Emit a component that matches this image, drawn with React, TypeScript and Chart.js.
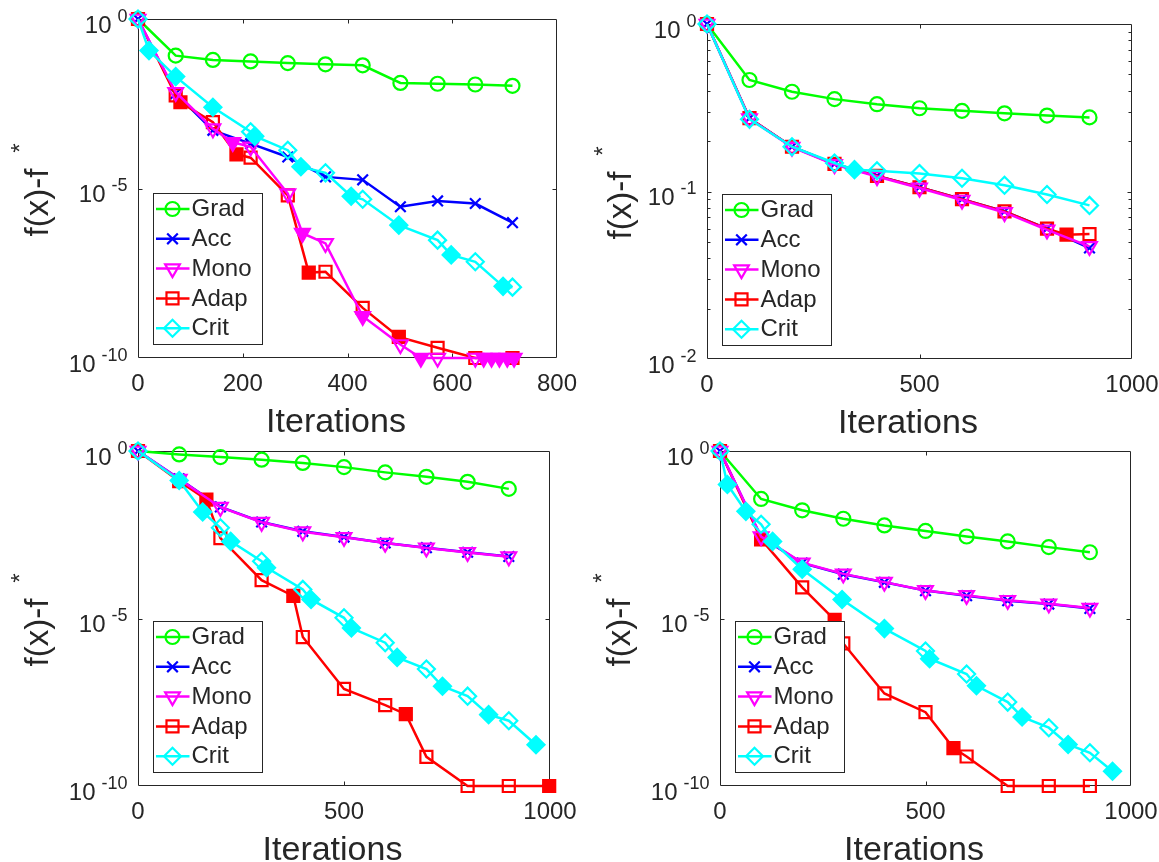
import React, { useEffect, useRef } from 'react';
import { Chart, registerables } from 'chart.js';
import { drawPoint } from 'chart.js/helpers';

Chart.register(...registerables);

const FONT = "'Liberation Sans', Arial, Helvetica, sans-serif";
const AXIS_COLOR = '#262626';

// ---------------- data ----------------
const seriesNames = ['Grad', 'Acc', 'Mono', 'Adap', 'Crit'];

// Panel 1 (top-left)
const p1Iters = [0, 72, 143, 215, 286, 358, 429, 501, 572, 644, 715];
const p1Grad = [1, 8.3e-2, 6.2e-2, 5.6e-2, 5.0e-2, 4.6e-2, 4.3e-2, 1.3e-2, 1.23e-2, 1.17e-2, 1.07e-2];
const p1Acc = [1, 6.3e-3, 5.2e-4, 2.1e-4, 8.5e-5, 2.2e-5, 1.8e-5, 2.9e-6, 4.3e-6, 3.6e-6, 9.8e-7];
const p1MonoIters = [0, 72, 143, 181, 215, 286, 314, 358, 429, 501, 540, 572, 644, 660, 675, 690, 705, 718];
const p1Mono = [1, 6.9e-3, 5.8e-4, 2.3e-4, 1.7e-4, 7.1e-6, 4.8e-7, 2.4e-7, 1.7e-9, 2.5e-10, 1e-10, 1e-10, 1e-10, 1e-10, 1e-10, 1e-10, 1e-10, 1e-10];
const p1MonoRestarts = [181, 314, 429, 540, 660, 675, 690, 705, 718];
const p1AdapIters = [0, 72, 81, 143, 188, 215, 286, 326, 358, 429, 498, 572, 644, 715];
const p1Adap = [1, 5.6e-3, 3.5e-3, 9.1e-4, 1.02e-4, 8.1e-5, 6.3e-6, 3.3e-8, 3.5e-8, 3.0e-9, 4.2e-10, 2.0e-10, 1e-10, 1e-10];
const p1AdapRestarts = [81, 188, 326, 498];
const p1CritIters = [0, 21, 72, 143, 215, 223, 286, 311, 358, 407, 429, 498, 572, 598, 644, 697, 715];
const p1Crit = [1, 0.117, 0.02, 2.5e-3, 4.7e-4, 3.5e-4, 1.35e-4, 4.4e-5, 2.9e-5, 5.9e-6, 4.8e-6, 8.3e-7, 3.0e-7, 1.1e-7, 6.9e-8, 1.3e-8, 1.23e-8];
const p1CritRestarts = [21, 72, 143, 223, 311, 407, 498, 598, 697];
const p1XTicks = [0, 200, 400, 600, 800];
const p1YTicks = [1e-10, 1e-5, 1];

// Panel 2 (top-right)
const p2Iters = [0, 100, 200, 300, 400, 500, 600, 700, 800, 900];
const p2Grad = [1, 0.463, 0.394, 0.356, 0.332, 0.314, 0.303, 0.293, 0.284, 0.277];
const p2Acc = [1, 0.274, 0.185, 0.146, 0.124, 0.106, 0.09, 0.076, 0.06, 0.046];
const p2Mono = [1, 0.272, 0.184, 0.145, 0.123, 0.105, 0.089, 0.075, 0.059, 0.047];
const p2AdapIters = [0, 100, 200, 300, 400, 500, 600, 700, 800, 846, 900];
const p2Adap = [1, 0.274, 0.185, 0.146, 0.124, 0.106, 0.09, 0.076, 0.06, 0.0552, 0.0557];
const p2AdapRestarts = [846];
const p2CritIters = [0, 100, 200, 300, 347, 400, 500, 600, 700, 800, 900];
const p2Crit = [1, 0.27, 0.185, 0.148, 0.135, 0.133, 0.128, 0.12, 0.109, 0.096, 0.0826];
const p2CritRestarts = [347];
const p2XTicks = [0, 500, 1000];
const p2YTicks = [1e-2, 1e-1, 1];

// Panel 3 (bottom-left)
const p3Iters = [0, 100, 200, 300, 400, 500, 600, 700, 800, 900];
const p3Grad = [1, 0.79, 0.66, 0.55, 0.44, 0.33, 0.23, 0.17, 0.12, 0.074];
const p3Acc = [1, 0.148, 0.0214, 7.6e-3, 4.0e-3, 2.7e-3, 1.8e-3, 1.3e-3, 9.5e-4, 7.1e-4];
const p3Mono = [1, 0.145, 0.021, 7.5e-3, 3.9e-3, 2.65e-3, 1.78e-3, 1.28e-3, 9.4e-4, 7.0e-4];
const p3AdapIters = [0, 100, 166, 200, 300, 377, 400, 500, 600, 650, 700, 800, 900, 998];
const p3Adap = [1, 0.126, 0.0355, 2.5e-3, 1.4e-4, 4.7e-5, 2.8e-6, 7.9e-8, 2.6e-8, 1.4e-8, 7.4e-10, 1e-10, 1e-10, 1e-10];
const p3AdapRestarts = [166, 377, 650, 998];
const p3CritIters = [0, 100, 157, 200, 225, 300, 312, 400, 420, 500, 518, 600, 629, 700, 739, 800, 851, 900, 966];
const p3Crit = [1, 0.132, 0.0151, 5.1e-3, 2.0e-3, 5.1e-4, 3.3e-4, 7.4e-5, 3.7e-5, 1.05e-5, 5.2e-6, 1.9e-6, 6.9e-7, 3.1e-7, 9.5e-8, 4.8e-8, 1.35e-8, 8.9e-9, 1.7e-9];
const p3CritRestarts = [100, 157, 225, 312, 420, 518, 629, 739, 851, 966];
const p3XTicks = [0, 500, 1000];
const p3YTicks = [1e-10, 1e-5, 1];

// Panel 4 (bottom-right)
const p4Iters = [0, 100, 200, 300, 400, 500, 600, 700, 800, 900];
const p4Grad = [1, 0.037, 0.017, 9.5e-3, 6.0e-3, 4.1e-3, 2.8e-3, 2.0e-3, 1.35e-3, 9.5e-4];
const p4Acc = [1, 2.7e-3, 4.5e-4, 2.1e-4, 1.2e-4, 6.8e-5, 4.8e-5, 3.4e-5, 2.7e-5, 2.0e-5];
const p4Mono = [1, 2.8e-3, 4.6e-4, 2.15e-4, 1.22e-4, 6.9e-5, 4.9e-5, 3.5e-5, 2.75e-5, 2.05e-5];
const p4AdapIters = [0, 100, 200, 279, 300, 400, 500, 568, 600, 700, 800, 900];
const p4Adap = [1, 2.3e-3, 8.5e-5, 9.1e-6, 1.8e-6, 5.8e-8, 1.6e-8, 1.35e-9, 7.6e-10, 1e-10, 1e-10, 1e-10];
const p4AdapRestarts = [100, 279, 568];
const p4CritIters = [0, 18, 63, 100, 128, 200, 297, 400, 500, 510, 600, 624, 700, 735, 800, 847, 900, 955];
const p4Crit = [1, 0.1, 0.0158, 6.5e-3, 2.0e-3, 2.95e-4, 3.7e-5, 5.0e-6, 1.07e-6, 6.3e-7, 2.2e-7, 9.8e-8, 3.2e-8, 1.15e-8, 5.5e-9, 1.74e-9, 9.8e-10, 2.75e-10];
const p4CritRestarts = [18, 63, 128, 200, 297, 400, 510, 624, 735, 847, 955];
const p4XTicks = [0, 500, 1000];
const p4YTicks = [1e-10, 1e-5, 1];

// ---------------- styles ----------------
const STYLES: Record<string, any> = {
  Grad: { color: '#00ff00', pointStyle: 'circle', radius: 7, rotation: 0, order: 4 },
  Acc: { color: '#0000ff', pointStyle: 'crossRot', radius: 7.5, rotation: 0, order: 3 },
  Mono: { color: '#ff00ff', pointStyle: 'triangle', radius: 8.5, rotation: 180, order: 1 },
  Adap: { color: '#ff0000', pointStyle: 'rect', radius: 8.5, rotation: 0, order: 2 },
  Crit: { color: '#00ffff', pointStyle: 'rectRot', radius: 8.5, rotation: 0, order: 0 },
};
const LINE_W = 2.5;
const MARKER_W = 2.2;

type Series = { name: string; xs: number[]; ys: number[]; restarts: number[] };

const PANELS = [
  {
    area: { left: 138, top: 19, right: 557, bottom: 358 },
    xMax: 800, yMin: 1e-10, xTicks: p1XTicks, yTicks: p1YTicks, minor: false, yTitleX: 48,
    series: [
      { name: 'Grad', xs: p1Iters, ys: p1Grad, restarts: [] },
      { name: 'Acc', xs: p1Iters, ys: p1Acc, restarts: [] },
      { name: 'Mono', xs: p1MonoIters, ys: p1Mono, restarts: p1MonoRestarts },
      { name: 'Adap', xs: p1AdapIters, ys: p1Adap, restarts: p1AdapRestarts },
      { name: 'Crit', xs: p1CritIters, ys: p1Crit, restarts: p1CritRestarts },
    ] as Series[],
  },
  {
    area: { left: 707, top: 24, right: 1132, bottom: 359 },
    xMax: 1000, yMin: 1e-2, xTicks: p2XTicks, yTicks: p2YTicks, minor: true, yTitleX: 631,
    series: [
      { name: 'Grad', xs: p2Iters, ys: p2Grad, restarts: [] },
      { name: 'Acc', xs: p2Iters, ys: p2Acc, restarts: [] },
      { name: 'Mono', xs: p2Iters, ys: p2Mono, restarts: [] },
      { name: 'Adap', xs: p2AdapIters, ys: p2Adap, restarts: p2AdapRestarts },
      { name: 'Crit', xs: p2CritIters, ys: p2Crit, restarts: p2CritRestarts },
    ] as Series[],
  },
  {
    area: { left: 138, top: 451, right: 550, bottom: 786 },
    xMax: 1000, yMin: 1e-10, xTicks: p3XTicks, yTicks: p3YTicks, minor: false, yTitleX: 48,
    series: [
      { name: 'Grad', xs: p3Iters, ys: p3Grad, restarts: [] },
      { name: 'Acc', xs: p3Iters, ys: p3Acc, restarts: [] },
      { name: 'Mono', xs: p3Iters, ys: p3Mono, restarts: [] },
      { name: 'Adap', xs: p3AdapIters, ys: p3Adap, restarts: p3AdapRestarts },
      { name: 'Crit', xs: p3CritIters, ys: p3Crit, restarts: p3CritRestarts },
    ] as Series[],
  },
  {
    area: { left: 720, top: 451, right: 1131, bottom: 786 },
    xMax: 1000, yMin: 1e-10, xTicks: p4XTicks, yTicks: p4YTicks, minor: false, yTitleX: 630,
    series: [
      { name: 'Grad', xs: p4Iters, ys: p4Grad, restarts: [] },
      { name: 'Acc', xs: p4Iters, ys: p4Acc, restarts: [] },
      { name: 'Mono', xs: p4Iters, ys: p4Mono, restarts: [] },
      { name: 'Adap', xs: p4AdapIters, ys: p4Adap, restarts: p4AdapRestarts },
      { name: 'Crit', xs: p4CritIters, ys: p4Crit, restarts: p4CritRestarts },
    ] as Series[],
  },
];

const W = 1159;
const H = 862;

const snap = (v: number) => Math.round(v) + 0.5;

const matlabPlugin = {
  id: 'matlab',
  beforeDatasetsDraw(chart: any, _args: any, opts: any) {
    const { ctx, chartArea: a, scales } = chart;
    const x = scales.x;
    const y = scales.y;
    const L = snap(a.left), R = snap(a.right) - 1, T = snap(a.top), B = snap(a.bottom) - 1;
    ctx.save();
    ctx.strokeStyle = AXIS_COLOR;
    ctx.lineWidth = 1;
    ctx.beginPath();
    ctx.rect(L, T, R - L, B - T);
    const tl = 4;
    for (const v of opts.xTicks) {
      if (v <= x.min || v >= x.max) continue;
      const px = snap(x.getPixelForValue(v));
      ctx.moveTo(px, B); ctx.lineTo(px, B - tl);
      ctx.moveTo(px, T); ctx.lineTo(px, T + tl);
    }
    for (const v of opts.yTicks) {
      if (v <= y.min * 1.0001 || v >= y.max * 0.9999) continue;
      const py = snap(y.getPixelForValue(v));
      ctx.moveTo(L, py); ctx.lineTo(L + tl, py);
      ctx.moveTo(R, py); ctx.lineTo(R - tl, py);
    }
    if (opts.minor) {
      for (let e = Math.round(Math.log10(y.min)); e < 0; e++) {
        for (let m = 2; m <= 9; m++) {
          const py = snap(y.getPixelForValue(m * Math.pow(10, e)));
          ctx.moveTo(L, py); ctx.lineTo(L + 3, py);
          ctx.moveTo(R, py); ctx.lineTo(R - 3, py);
        }
      }
    }
    ctx.stroke();
    ctx.restore();
  },
  afterDraw(chart: any, _args: any, opts: any) {
    const { ctx, chartArea: a, scales } = chart;
    const x = scales.x;
    const y = scales.y;
    ctx.save();
    ctx.fillStyle = AXIS_COLOR;
    // x tick labels
    ctx.font = `24px ${FONT}`;
    ctx.textAlign = 'center';
    ctx.textBaseline = 'alphabetic';
    for (const v of opts.xTicks) {
      ctx.fillText(String(v), x.getPixelForValue(v), a.bottom + 32.5);
    }
    // y tick labels 10^k
    for (const v of opts.yTicks) {
      const py = y.getPixelForValue(v);
      const e = String(Math.round(Math.log10(v)));
      ctx.textAlign = 'right';
      ctx.font = `18px ${FONT}`;
      const right = a.left - 10.5;
      ctx.fillText(e, right, py + 2.5);
      const ew = ctx.measureText(e).width;
      ctx.font = `24px ${FONT}`;
      ctx.fillText('10', right - ew - 6, py + 13.5);
    }
    // x title
    ctx.font = `34px ${FONT}`;
    ctx.textAlign = 'center';
    ctx.fillText('Iterations', (a.left + a.right) / 2 - 11.5, a.bottom + 73.5);
    // y title with superscript star
    ctx.save();
    ctx.translate(opts.yTitleX, (a.top + a.bottom) / 2 + 48);
    ctx.rotate(-Math.PI / 2);
    ctx.textAlign = 'left';
    ctx.font = `33px ${FONT}`;
    ctx.fillText('f(x)-f', 0, 0);
    const mw = ctx.measureText('f(x)-f').width;
    ctx.font = `24px ${FONT}`;
    ctx.fillText('*', mw + 16, -20);
    ctx.restore();

    // legend
    const lw = 109, lh = 151;
    const lx = a.left + 14.5;
    const ly = a.bottom - 14.5 - lh;
    ctx.fillStyle = '#ffffff';
    ctx.fillRect(Math.round(lx), Math.round(ly), lw, lh);
    ctx.strokeStyle = AXIS_COLOR;
    ctx.lineWidth = 1;
    ctx.strokeRect(snap(lx), snap(ly), lw, lh);
    chart.data.datasets.forEach((ds: any, i: number) => {
      const st = STYLES[ds.label];
      const cy = ly + 16.5 + 29.8 * i;
      ctx.strokeStyle = st.color;
      ctx.lineWidth = LINE_W;
      ctx.beginPath();
      ctx.moveTo(lx + 3.5, cy);
      ctx.lineTo(lx + 37, cy);
      ctx.stroke();
      ctx.lineWidth = MARKER_W;
      ctx.fillStyle = 'rgba(0,0,0,0)';
      drawPoint(ctx, { pointStyle: st.pointStyle, rotation: st.rotation, radius: st.radius, borderWidth: MARKER_W }, lx + 20, cy);
      ctx.fillStyle = AXIS_COLOR;
      ctx.font = `24px ${FONT}`;
      ctx.textAlign = 'left';
      ctx.textBaseline = 'middle';
      ctx.fillText(ds.label, lx + 39, cy + 0.5);
      ctx.textBaseline = 'alphabetic';
    });
    ctx.restore();
  },
};

function makeDataset(s: Series) {
  const st = STYLES[s.name];
  return {
    label: s.name,
    data: s.xs.map((xv, i) => ({ x: xv, y: s.ys[i] })),
    borderColor: st.color,
    backgroundColor: st.color,
    borderWidth: LINE_W,
    pointStyle: st.pointStyle,
    pointRotation: st.rotation,
    pointRadius: st.radius,
    pointBorderWidth: MARKER_W,
    pointBorderColor: st.color,
    pointBackgroundColor: (ctx: any) =>
      ctx.raw && s.restarts.includes(ctx.raw.x) ? st.color : 'rgba(0,0,0,0)',
    tension: 0,
    clip: false as any,
    order: st.order,
  };
}

function Panel({ cfg }: { cfg: any }) {
  const ref = useRef<HTMLCanvasElement>(null);
  useEffect(() => {
    if (!ref.current) return;
    const a = cfg.area;
    const chart = new Chart(ref.current, {
      type: 'line',
      data: { datasets: cfg.series.map(makeDataset) },
      options: {
        responsive: false,
        animation: false,
        devicePixelRatio: 1,
        events: [],
        layout: { padding: { left: a.left, top: a.top, right: W - a.right, bottom: H - a.bottom } },
        scales: {
          x: { type: 'linear', min: 0, max: cfg.xMax, display: false },
          y: { type: 'logarithmic', min: cfg.yMin, max: 1, display: false },
        },
        plugins: {
          legend: { display: false },
          tooltip: { enabled: false },
          matlab: { xTicks: cfg.xTicks, yTicks: cfg.yTicks, minor: cfg.minor, yTitleX: cfg.yTitleX },
        } as any,
      },
      plugins: [matlabPlugin as any],
    });
    return () => chart.destroy();
  }, [cfg]);
  return (
    <canvas
      ref={ref}
      width={W}
      height={H}
      style={{ position: 'absolute', left: 0, top: 0, width: W, height: H }}
    />
  );
}

export default function App() {
  return (
    <div style={{ position: 'absolute', left: 0, top: 0, width: W, height: H, background: '#ffffff', overflow: 'hidden' }}>
      {PANELS.map((p, i) => (
        <Panel key={i} cfg={p} />
      ))}
    </div>
  );
}
